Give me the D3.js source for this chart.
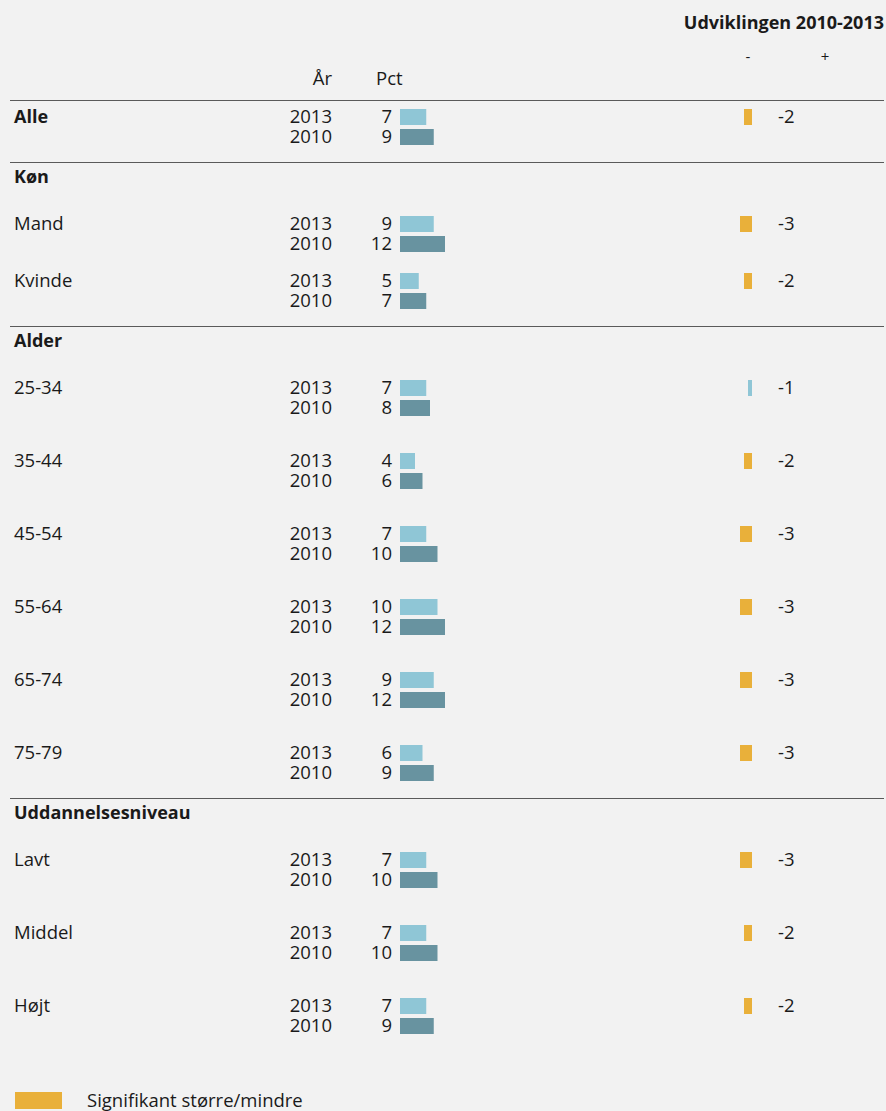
<!DOCTYPE html>
<html>
<head>
<meta charset="utf-8">
<script src="https://cdn.jsdelivr.net/npm/d3@7"></script>
<style>
  body { margin: 0; background: #f2f2f2; }
  text { font-family: "Open Sans", Roboto, sans-serif; fill: #1a1a1a; }
</style>
</head>
<body>
<script>
// data
var sections = ["", "Køn", "Alder", "Uddannelsesniveau"];
var labels = ["Alle", "Mand", "Kvinde", "25-34", "35-44", "45-54", "55-64", "65-74", "75-79", "Lavt", "Middel", "Højt"];
var sectionOf = [0, 1, 1, 2, 2, 2, 2, 2, 2, 3, 3, 3];
var pct2013 = [7, 9, 5, 7, 4, 7, 10, 9, 6, 7, 7, 7];
var pct2010 = [9, 12, 7, 8, 6, 10, 12, 12, 9, 10, 10, 9];
var change = [-2, -3, -2, -1, -2, -3, -3, -3, -3, -3, -2, -2];
var significant = [true, true, true, false, true, true, true, true, true, true, true, true];
var years = ["2013", "2010"];

var width = 886, height = 1111;
var c2013 = "#8fc6d6", c2010 = "#6893a0", cSig = "#e9b03a", lineCol = "#5a5a5a";
var fs = "18.5px", fb = "18px";

var svg = d3.select("body").append("svg")
    .attr("width", width)
    .attr("height", height);

var x = d3.scaleLinear().domain([0, 12]).range([400, 445]);
var xc = d3.scaleLinear().domain([-3, 0]).range([740, 752]);

// header
svg.append("text").attr("x", 884).attr("y", 23).attr("dy", "0.35em")
  .attr("text-anchor", "end").style("font-weight", "bold").style("font-size", fb)
  .text("Udviklingen 2010-2013");
svg.append("text").attr("x", 748).attr("y", 57).attr("dy", "0.35em").attr("text-anchor", "middle")
  .style("font-size", "15px").text("-");
svg.append("text").attr("x", 825).attr("y", 57).attr("dy", "0.35em").attr("text-anchor", "middle")
  .style("font-size", "15px").text("+");
svg.append("text").attr("x", 332).attr("y", 79).attr("dy", "0.35em").attr("text-anchor", "end")
  .style("font-size", fs).text("År");
svg.append("text").attr("x", 376).attr("y", 79).attr("dy", "0.35em")
  .style("font-size", fs).text("Pct");

// layout rows
var rowGap = [0, 57, 73, 73];
var rowsY = [];
var lines = [100];
var headers = [];
var y = 117, prevSec = 0;
labels.forEach(function(l, i) {
  var s = sectionOf[i];
  if (i > 0 && s !== prevSec) {
    var ly = y + 45;
    lines.push(ly);
    headers.push({ name: sections[s], y: ly + 15 });
    y = ly + 62;
  } else if (i > 0) {
    y += rowGap[s];
  }
  rowsY.push(y);
  prevSec = s;
});

svg.selectAll("line.rule").data(lines).enter().append("line")
  .attr("x1", 10).attr("x2", 884)
  .attr("y1", function(d) { return d + 0.5; }).attr("y2", function(d) { return d + 0.5; })
  .attr("stroke", lineCol).attr("stroke-width", 1);

svg.selectAll("text.sec").data(headers).enter().append("text")
  .attr("x", 14).attr("y", function(d) { return d.y; }).attr("dy", "0.35em")
  .style("font-weight", "bold").style("font-size", fb)
  .text(function(d) { return d.name; });

var rows = svg.selectAll("g.row").data(labels).enter().append("g")
  .attr("transform", function(d, i) { return "translate(0," + rowsY[i] + ")"; });

rows.append("text").attr("x", 14).attr("dy", "0.35em")
  .style("font-size", function(d, i) { return i === 0 ? fb : fs; })
  .style("font-weight", function(d, i) { return i === 0 ? "bold" : "normal"; })
  .text(function(d) { return d; });

years.forEach(function(yr, k) {
  var vals = k === 0 ? pct2013 : pct2010;
  var off = k * 20;
  rows.append("text").attr("x", 332).attr("y", off).attr("dy", "0.35em").attr("text-anchor", "end")
    .style("font-size", fs).text(yr);
  rows.append("text").attr("x", 392).attr("y", off).attr("dy", "0.35em").attr("text-anchor", "end")
    .style("font-size", fs).text(function(d, i) { return vals[i]; });
  rows.append("rect").attr("x", x(0)).attr("y", off - 8).attr("height", 16)
    .attr("width", function(d, i) { return x(vals[i]) - x(0); })
    .attr("fill", k === 0 ? c2013 : c2010);
});

rows.append("rect")
  .attr("x", function(d, i) { return xc(change[i]); }).attr("y", -8).attr("height", 16)
  .attr("width", function(d, i) { return xc(0) - xc(change[i]); })
  .attr("fill", function(d, i) { return significant[i] ? cSig : c2013; });
rows.append("text").attr("x", 778).attr("dy", "0.35em").style("font-size", fs)
  .text(function(d, i) { return change[i]; });

// legend
svg.append("rect").attr("x", 15).attr("y", 1092).attr("width", 47).attr("height", 17).attr("fill", cSig);
svg.append("text").attr("x", 87).attr("y", 1101).attr("dy", "0.35em").style("font-size", fs)
  .text("Signifikant større/mindre");
</script>
</body>
</html>
